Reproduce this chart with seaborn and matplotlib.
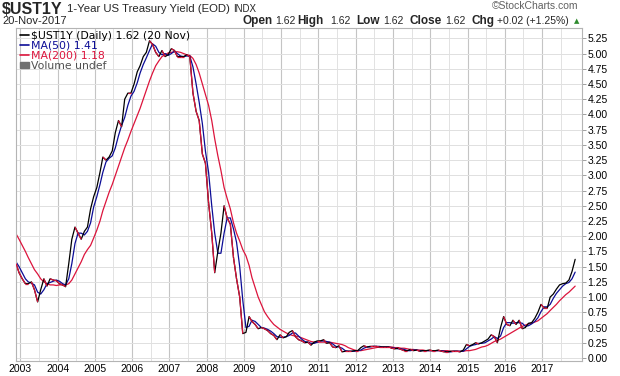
import numpy as np
import pandas as pd
import seaborn as sns
import matplotlib.pyplot as plt
import matplotlib.dates as mdates
from matplotlib.collections import LineCollection
from matplotlib.lines import Line2D
from matplotlib.patches import Patch

# monthly readings (around the 20th of each month), Nov 2002 - Nov 2017
dates = pd.date_range('2002-11-01', periods=181, freq='MS') + pd.Timedelta(days=19)

close = [
    1.55, 1.40,
    1.30, 1.22, 1.22, 1.25, 1.12, 0.92, 1.12, 1.30, 1.18, 1.30, 1.28, 1.27,
    1.22, 1.20, 1.17, 1.55, 1.95, 2.15, 2.05, 1.95, 2.08, 2.15, 2.45, 2.65,
    2.80, 3.05, 3.30, 3.25, 3.30, 3.40, 3.70, 3.90, 3.80, 4.25, 4.35, 4.35,
    4.50, 4.70, 4.80, 4.95, 5.02, 5.21, 5.15, 5.02, 4.95, 5.05, 4.95, 4.98,
    5.08, 5.05, 4.95, 4.95, 4.95, 4.98, 4.95, 4.35, 4.05, 3.90, 3.35, 3.20,
    2.55, 2.05, 1.40, 1.75, 2.05, 2.50, 2.30, 2.20, 1.65, 1.30, 1.00, 0.40,
    0.42, 0.68, 0.60, 0.55, 0.48, 0.50, 0.48, 0.45, 0.40, 0.37, 0.30, 0.38,
    0.33, 0.35, 0.42, 0.45, 0.35, 0.30, 0.28, 0.25, 0.26, 0.21, 0.26, 0.28,
    0.28, 0.30, 0.24, 0.25, 0.18, 0.17, 0.20, 0.10, 0.11, 0.11, 0.11, 0.12,
    0.12, 0.17, 0.20, 0.18, 0.19, 0.19, 0.19, 0.18, 0.18, 0.18, 0.18, 0.16,
    0.15, 0.16, 0.14, 0.12, 0.12, 0.14, 0.12, 0.13, 0.11, 0.12, 0.12, 0.13,
    0.12, 0.12, 0.13, 0.11, 0.10, 0.10, 0.11, 0.11, 0.11, 0.10, 0.13, 0.22,
    0.20, 0.22, 0.25, 0.23, 0.25, 0.28, 0.31, 0.38, 0.35, 0.25, 0.50, 0.68,
    0.55, 0.53, 0.62, 0.55, 0.62, 0.48, 0.50, 0.57, 0.58, 0.65, 0.75, 0.88,
    0.82, 0.82, 1.00, 1.05, 1.13, 1.20, 1.22, 1.23, 1.28, 1.42, 1.62,
]

ma50 = [
    1.58, 1.50,
    1.40, 1.30, 1.25, 1.23, 1.20, 1.08, 1.05, 1.12, 1.22, 1.24, 1.26, 1.28,
    1.26, 1.22, 1.20, 1.30, 1.55, 1.88, 2.05, 2.05, 2.02, 2.08, 2.22, 2.48,
    2.65, 2.85, 3.05, 3.22, 3.28, 3.32, 3.45, 3.65, 3.82, 3.95, 4.15, 4.30,
    4.38, 4.52, 4.68, 4.82, 4.93, 5.05, 5.16, 5.12, 5.02, 4.98, 5.00, 4.97,
    5.00, 5.04, 5.00, 4.96, 4.95, 4.96, 4.96, 4.78, 4.50, 4.20, 3.85, 3.40,
    3.05, 2.50, 2.05, 1.72, 1.72, 2.05, 2.30, 2.30, 2.12, 1.90, 1.50, 0.95,
    0.50, 0.52, 0.62, 0.60, 0.55, 0.50, 0.49, 0.47, 0.44, 0.40, 0.35, 0.34,
    0.34, 0.35, 0.37, 0.41, 0.41, 0.36, 0.31, 0.27, 0.26, 0.24, 0.24, 0.26,
    0.28, 0.28, 0.27, 0.26, 0.23, 0.19, 0.18, 0.16, 0.12, 0.11, 0.11, 0.11,
    0.12, 0.13, 0.16, 0.18, 0.18, 0.19, 0.19, 0.19, 0.18, 0.18, 0.18, 0.17,
    0.16, 0.15, 0.15, 0.14, 0.12, 0.12, 0.13, 0.13, 0.12, 0.12, 0.12, 0.12,
    0.12, 0.12, 0.12, 0.12, 0.11, 0.10, 0.10, 0.11, 0.11, 0.11, 0.11, 0.15,
    0.19, 0.21, 0.22, 0.24, 0.24, 0.25, 0.28, 0.31, 0.35, 0.32, 0.36, 0.50,
    0.58, 0.58, 0.57, 0.58, 0.58, 0.57, 0.52, 0.53, 0.56, 0.60, 0.66, 0.76,
    0.84, 0.84, 0.88, 0.98, 1.06, 1.12, 1.18, 1.22, 1.24, 1.30, 1.41,
]

ma200 = [
    2.04, 1.95,
    1.85, 1.75, 1.65, 1.55, 1.45, 1.38, 1.30, 1.25, 1.22, 1.20, 1.20, 1.19,
    1.20, 1.20, 1.20, 1.22, 1.28, 1.38, 1.48, 1.58, 1.70, 1.78, 1.85, 1.97,
    2.10, 2.25, 2.42, 2.57, 2.72, 2.85, 3.00, 3.15, 3.30, 3.45, 3.58, 3.72,
    3.85, 3.98, 4.10, 4.25, 4.40, 4.55, 4.68, 4.80, 4.88, 4.95, 4.98, 5.01,
    5.02, 5.03, 5.03, 5.02, 5.00, 4.98, 4.97, 4.92, 4.82, 4.68, 4.50, 4.32,
    4.15, 3.90, 3.60, 3.32, 3.08, 2.80, 2.62, 2.45, 2.22, 2.05, 1.92, 1.78,
    1.68, 1.52, 1.32, 1.16, 1.00, 0.88, 0.76, 0.68, 0.61, 0.55, 0.51, 0.47,
    0.44, 0.41, 0.39, 0.37, 0.36, 0.35, 0.33, 0.31, 0.29, 0.27, 0.26, 0.26,
    0.26, 0.26, 0.26, 0.26, 0.25, 0.24, 0.23, 0.22, 0.20, 0.17, 0.15, 0.13,
    0.12, 0.12, 0.13, 0.14, 0.15, 0.16, 0.17, 0.18, 0.18, 0.18, 0.18, 0.18,
    0.17, 0.17, 0.16, 0.16, 0.15, 0.14, 0.14, 0.13, 0.13, 0.13, 0.12, 0.12,
    0.12, 0.12, 0.12, 0.12, 0.12, 0.12, 0.11, 0.11, 0.11, 0.11, 0.11, 0.12,
    0.12, 0.13, 0.14, 0.16, 0.18, 0.19, 0.21, 0.24, 0.27, 0.29, 0.31, 0.34,
    0.37, 0.40, 0.43, 0.46, 0.49, 0.52, 0.54, 0.56, 0.57, 0.59, 0.61, 0.65,
    0.69, 0.73, 0.78, 0.83, 0.88, 0.94, 0.99, 1.04, 1.08, 1.13, 1.18,
]

years = list(range(2003, 2018))
ytick_vals = np.arange(0, 5.26, 0.25)

RED = '#dc143c'
BLUE = '#0c0c96'

df = pd.DataFrame({'date': dates, 'close': close, 'ma50': ma50, 'ma200': ma200})

sns.set_theme(style='white')
plt.rcParams['font.family'] = ['Liberation Sans', 'DejaVu Sans']

fig = plt.figure(figsize=(6.2, 3.76), dpi=100)
ax = fig.add_axes([16 / 620, 15 / 376, 566 / 620, 333 / 376])

sns.lineplot(data=df, x='date', y='ma200', color=RED, lw=0.9, ax=ax)
sns.lineplot(data=df, x='date', y='ma50', color=BLUE, lw=0.9, ax=ax)
sns.lineplot(data=df, x='date', y='close', color='black', lw=0.9, ax=ax)

# falling stretches of the close line are drawn red
xn = mdates.date2num(df['date'])
c = df['close'].to_numpy()
segs = [[(xn[i], c[i]), (xn[i + 1], c[i + 1])] for i in range(len(c) - 1) if c[i + 1] <= c[i]]
ax.add_collection(LineCollection(segs, colors=RED, linewidths=0.9, zorder=3))

ax.set_xlim(pd.Timestamp('2002-11-20'), pd.Timestamp('2018-01-26'))
ax.set_ylim(-0.05, 5.42)
ax.set_xlabel('')
ax.set_ylabel('')

ax.yaxis.tick_right()
ax.set_yticks(ytick_vals)
ax.set_yticklabels([f'{v:.2f}' for v in ytick_vals])
ax.set_xticks([mdates.date2num(pd.Timestamp(f'{y}-01-01')) for y in years])
ax.set_xticklabels([str(y) for y in years])
ax.set_xticks([mdates.date2num(pd.Timestamp(f'{y}-07-01')) for y in years], minor=True)

ax.tick_params(axis='x', which='both', length=0, pad=2, labelsize=7.5, colors='black')
ax.tick_params(axis='y', which='both', right=True, length=3, width=0.6, color='#909090',
               pad=1, labelsize=7.5, labelcolor='black')

ax.grid(True, which='major', axis='y', color='#e0e0e0', lw=0.7)
ax.grid(True, which='major', axis='x', color='#c4c4c4', lw=0.8)
ax.grid(True, which='minor', axis='x', color='#e2e2e2', lw=0.7)
ax.set_axisbelow(True)
for s in ax.spines.values():
    s.set_color('#b4b4b4')
    s.set_linewidth(0.8)

handles = [
    Line2D([], [], color='black', lw=1.2),
    Line2D([], [], color=BLUE, lw=1.2),
    Line2D([], [], color=RED, lw=1.2),
    Patch(color='#707070'),
]
labels = ['$UST1Y (Daily) 1.62 (20 Nov)', 'MA(50) 1.41', 'MA(200) 1.18', 'Volume undef']
leg = ax.legend(handles, labels, loc='upper left', bbox_to_anchor=(-0.004, 1.012),
                frameon=False, handlelength=0.8, handleheight=0.5, handletextpad=0.2,
                labelspacing=0.02, borderaxespad=0.2,
                prop={'family': 'DejaVu Sans', 'size': 7.8},
                labelcolor=['black', BLUE, RED, '#505050'])


def px(x, y):
    return x / 620, 1 - y / 376


fig.text(*px(2, 9), '$UST1Y', fontsize=11.5, fontweight='bold', va='center')
fig.text(*px(67, 9), '1-Year US Treasury Yield (EOD)', fontsize=8.2, va='center')
fig.text(*px(233, 9), 'INDX', fontsize=7, va='center')
fig.text(*px(578, 6), '\u00a9StockCharts.com', fontsize=7.5, color='#606060', va='center', ha='right')
fig.text(*px(2, 21), '20-Nov-2017', fontsize=8, va='center')

bold = [('Open', 243), ('High', 297), ('Low', 356), ('Close', 410), ('Chg', 472)]
vals = [('1.62', 275), ('1.62', 330), ('1.62', 383), ('1.62', 445), ('+0.02 (+1.25%)', 497)]
for t, x in bold:
    fig.text(*px(x, 21), t, fontsize=8.5, fontweight='bold', va='center')
for t, x in vals:
    fig.text(*px(x, 21), t, fontsize=7.5, va='center')
fig.text(*px(577, 21), '\u25b2', fontsize=5, color='#2e8b2e', va='center', ha='center',
         family=['DejaVu Sans'])

fig.savefig('out.png', dpi=100)
